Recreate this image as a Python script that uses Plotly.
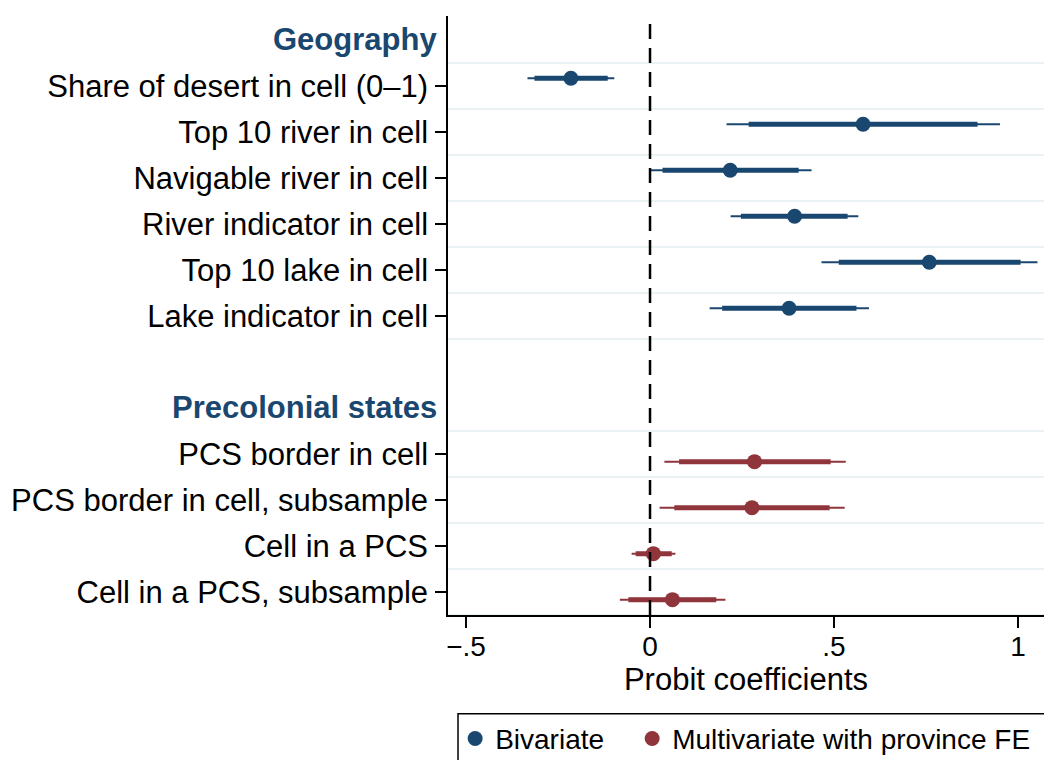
import plotly.graph_objects as go

# ---------------- data ----------------
group_titles = ["Geography", "Precolonial states"]
geo_labels = [
    "Share of desert in cell (0–1)",
    "Top 10 river in cell",
    "Navigable river in cell",
    "River indicator in cell",
    "Top 10 lake in cell",
    "Lake indicator in cell",
]
pcs_labels = [
    "PCS border in cell",
    "PCS border in cell, subsample",
    "Cell in a PCS",
    "Cell in a PCS, subsample",
]
model_names = ["Bivariate", "Multivariate with province FE"]

# Bivariate (Geography)
biv_coef = [-0.215, 0.579, 0.218, 0.393, 0.759, 0.378]
biv_lo95 = [-0.333, 0.208, -0.002, 0.219, 0.466, 0.162]
biv_hi95 = [-0.097, 0.951, 0.439, 0.566, 1.053, 0.595]
biv_lo90 = [-0.314, 0.268, 0.034, 0.247, 0.513, 0.196]
biv_hi90 = [-0.115, 0.890, 0.404, 0.537, 1.007, 0.561]

# Multivariate with province FE (Precolonial states)
mv_coef = [0.284, 0.277, 0.009, 0.061]
mv_lo95 = [0.039, 0.026, -0.050, -0.082]
mv_hi95 = [0.532, 0.529, 0.069, 0.205]
mv_lo90 = [0.079, 0.066, -0.039, -0.059]
mv_hi90 = [0.491, 0.488, 0.059, 0.180]

x_tickvals = [-0.5, 0, 0.5, 1]
x_ticktext = ["−.5", "0", ".5", "1"]
x_title = "Probit coefficients"

# ---------------- layout of rows ----------------
BLUE = "#1a476f"
RED = "#90353b"
GRID = "#eaf2f3"
FONT = "Liberation Sans, Arial, Helvetica, sans-serif"

header_rows = []
group_rows = []
r = 0
for labs in [geo_labels, pcs_labels]:
    header_rows.append(r)
    r += 1
    rows = []
    for _ in labs:
        rows.append(r)
        r += 1
    group_rows.append(rows)
    r += 1  # blank row after each group

all_rows = group_rows[0] + group_rows[1]
all_labels = geo_labels + pcs_labels
OFF = 1.0 / 6.0

fig = go.Figure()


def add_model(rows, coef, lo95, hi95, lo90, hi90, color, name, off, legend):
    ys = [rr + off for rr in rows]
    xt, yt, xk, yk = [], [], [], []
    for y, a, b, c, d in zip(ys, lo95, hi95, lo90, hi90):
        xt += [a, b, None]
        yt += [y, y, None]
        xk += [c, d, None]
        yk += [y, y, None]
    fig.add_trace(go.Scatter(x=xt, y=yt, mode="lines", line=dict(color=color, width=2),
                             showlegend=False, hoverinfo="skip"))
    fig.add_trace(go.Scatter(x=xk, y=yk, mode="lines", line=dict(color=color, width=5),
                             showlegend=False, hoverinfo="skip"))
    fig.add_trace(go.Scatter(x=coef, y=ys, mode="markers", name=name, legend=legend,
                             marker=dict(color=color, size=15, line=dict(width=0))))


add_model(group_rows[0], biv_coef, biv_lo95, biv_hi95, biv_lo90, biv_hi90, BLUE, model_names[0], -OFF, "legend")
add_model(group_rows[1], mv_coef, mv_lo95, mv_hi95, mv_lo90, mv_hi90, RED, model_names[1], OFF, "legend2")

shapes = []
# grid lines between coefficients
grid_pos = []
for rows in group_rows:
    grid_pos += [rr - 0.5 for rr in rows] + [rows[-1] + 0.5]
for g in grid_pos:
    shapes.append(dict(type="line", xref="paper", yref="y", x0=0, x1=1, y0=g, y1=g,
                       line=dict(color=GRID, width=2), layer="below"))
# zero reference line
shapes.append(dict(type="line", xref="x", yref="paper", x0=0, x1=0, y0=0, y1=1,
                   line=dict(color="black", width=2.5, dash="15px,9px"), layer="above"))
# legend frame
shapes.append(dict(type="rect", xref="paper", yref="paper", x0=0.0168, x1=1.2, y0=-0.165, y1=-0.4,
                   line=dict(color="black", width=1.5), fillcolor="rgba(0,0,0,0)"))

annotations = []
for hr, t in zip(header_rows, group_titles):
    annotations.append(dict(text="<b>%s</b>" % t, x=-0.015, xref="paper", xanchor="right",
                            y=hr, yref="y", yanchor="middle", showarrow=False,
                            font=dict(family=FONT, size=31, color=BLUE)))

legend_common = dict(orientation="h", xanchor="left", y=-0.165, yanchor="top",
                     font=dict(family=FONT, size=28, color="black"), bgcolor="rgba(0,0,0,0)",
                     borderwidth=0)

fig.update_layout(
    width=1044, height=760,
    margin=dict(l=448, r=0, t=16, b=145, autoexpand=False),
    paper_bgcolor="white", plot_bgcolor="white",
    font=dict(family=FONT, color="black"),
    shapes=shapes, annotations=annotations,
    showlegend=True,
    legend=dict(x=0.012, **legend_common),
    legend2=dict(x=0.309, **legend_common),
    xaxis=dict(range=[-0.549, 1.0707], tickvals=x_tickvals, ticktext=x_ticktext,
               showgrid=False, zeroline=False, showline=True, linecolor="black", linewidth=1.5,
               ticks="outside", ticklen=11, tickwidth=1.5, tickcolor="black", automargin=False,
               tickfont=dict(family=FONT, size=28, color="black"), ticklabelstandoff=-5,
               title=dict(text=x_title, font=dict(family=FONT, size=31, color="black"), standoff=2)),
    yaxis=dict(range=[12.5, -0.52], tickvals=all_rows, ticktext=all_labels, automargin=False,
               showgrid=False, zeroline=False, showline=True, linecolor="black", linewidth=1.5,
               ticks="outside", ticklen=11, tickwidth=1.5, tickcolor="black", ticklabelstandoff=1,
               tickfont=dict(family=FONT, size=31, color="black")),
)

fig.write_html(
    "out.html",
    config={"displayModeBar": False},
    post_script=(
        "document.documentElement.style.overflow='hidden';"
        "document.body.style.margin='0';"
        "document.body.style.overflow='hidden';"
    ),
)
